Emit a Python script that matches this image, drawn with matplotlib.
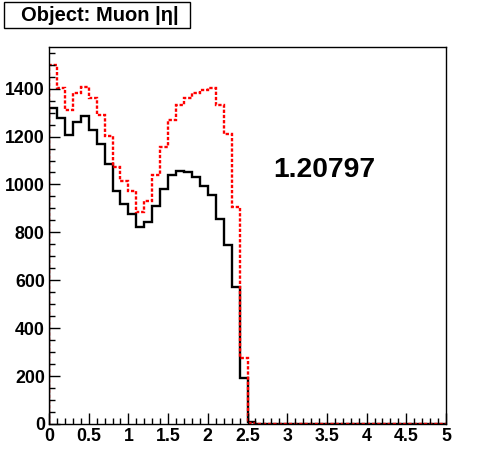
import numpy as np
import matplotlib.pyplot as plt
from matplotlib.ticker import MultipleLocator, FormatStrFormatter
from matplotlib.patches import Rectangle

plt.rcParams['font.family'] = ['Liberation Sans', 'DejaVu Sans']
plt.rcParams['font.weight'] = 'bold'

# histogram: 50 bins of 0.1 in |eta| from 0 to 5
bin_edges = np.linspace(0, 5, 51)

black_counts = [1318, 1276, 1208, 1262, 1285, 1229, 1171, 1087, 971, 917,
                878, 821, 842, 910, 980, 1039, 1055, 1051, 1033, 993,
                954, 854, 749, 572, 190, 8] + [0] * 24
red_counts = [1499, 1401, 1312, 1381, 1407, 1360, 1290, 1201, 1075, 1015,
              974, 886, 930, 1039, 1155, 1271, 1332, 1360, 1383, 1396,
              1401, 1332, 1211, 906, 276, 4] + [0] * 24

title_text = 'Object: Muon |\u03b7|'
ratio_text = '1.20797'

fig = plt.figure(figsize=(4.96, 4.72), dpi=100)
ax = fig.add_axes([49 / 496, 1 - 424 / 472, 397 / 496, 377 / 472])

ax.stairs(black_counts, bin_edges, color='black', linewidth=1.7, baseline=0)
ax.stairs(red_counts, bin_edges, color='red', linewidth=1.7, baseline=0,
          linestyle=(0, (1.4, 0.8)))

ax.set_xlim(0, 5)
ax.set_ylim(0, 1.05 * max(red_counts))

ax.xaxis.set_major_locator(MultipleLocator(0.5))
ax.xaxis.set_minor_locator(MultipleLocator(0.1))
ax.yaxis.set_major_locator(MultipleLocator(200))
ax.yaxis.set_minor_locator(MultipleLocator(50))
ax.xaxis.set_major_formatter(FormatStrFormatter('%g'))
ax.tick_params(which='both', direction='in', top=False, right=False,
               width=1, labelsize=12.8, pad=3)
ax.tick_params(which='major', length=8)
ax.tick_params(which='minor', length=4)
for lab in ax.get_xticklabels() + ax.get_yticklabels():
    lab.set_fontweight('bold')
for sp in ax.spines.values():
    sp.set_linewidth(1)

ax.text(2.82, 1033, ratio_text, fontsize=20.3, fontweight='bold',
        ha='left', va='baseline')

# title box in the top-left corner
fig.patches.append(Rectangle((4 / 496, 1 - 28 / 472), 186 / 496, 25.7 / 472,
                             transform=fig.transFigure, facecolor='white',
                             edgecolor='black', linewidth=1))
fig.text(100 / 496, 1 - 15.5 / 472, title_text, fontsize=14.5, fontweight='bold',
         ha='center', va='center')

fig.savefig('out.png', dpi=100)
